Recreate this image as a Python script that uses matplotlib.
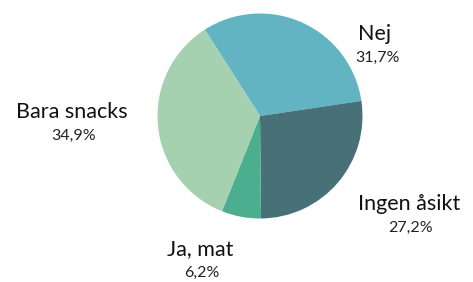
import matplotlib
matplotlib.use("Agg")
import matplotlib.pyplot as plt

# Share of answers
labels = ["Nej", "Ingen åsikt", "Ja, mat", "Bara snacks"]
shares = [31.7, 27.2, 6.2, 34.9]
colors = ["#62b4c3", "#487177", "#4aae8f", "#a6d1b0"]

# label anchor positions in pixel coords (x, y from top)
label_pos = [(375, 34), (409, 204), (200, 249), (72, 112)]

W, H = 473, 282
fig = plt.figure(figsize=(W / 100, H / 100), dpi=100)
ax = fig.add_axes([0, 0, 1, 1])

ax.pie(shares, colors=colors, startangle=122.6, counterclock=False,
       center=(260, H - 116), radius=102.5,
       wedgeprops=dict(linewidth=0))

# pie() resets the view, so fix the pixel frame afterwards
ax.set_xlim(0, W)
ax.set_ylim(0, H)
ax.set_aspect("auto")
ax.axis("off")

for lab, val, (x, y) in zip(labels, shares, label_pos):
    ax.text(x, H - y, lab, ha="center", va="center", fontsize=15.5,
            family="Lato", color="#111111")
    ax.text(x + 2, H - y - 24, f"{val:.1f}%".replace(".", ","),
            ha="center", va="center", fontsize=11.5, family="Lato",
            color="#222222")

fig.savefig("out.png", dpi=100)
